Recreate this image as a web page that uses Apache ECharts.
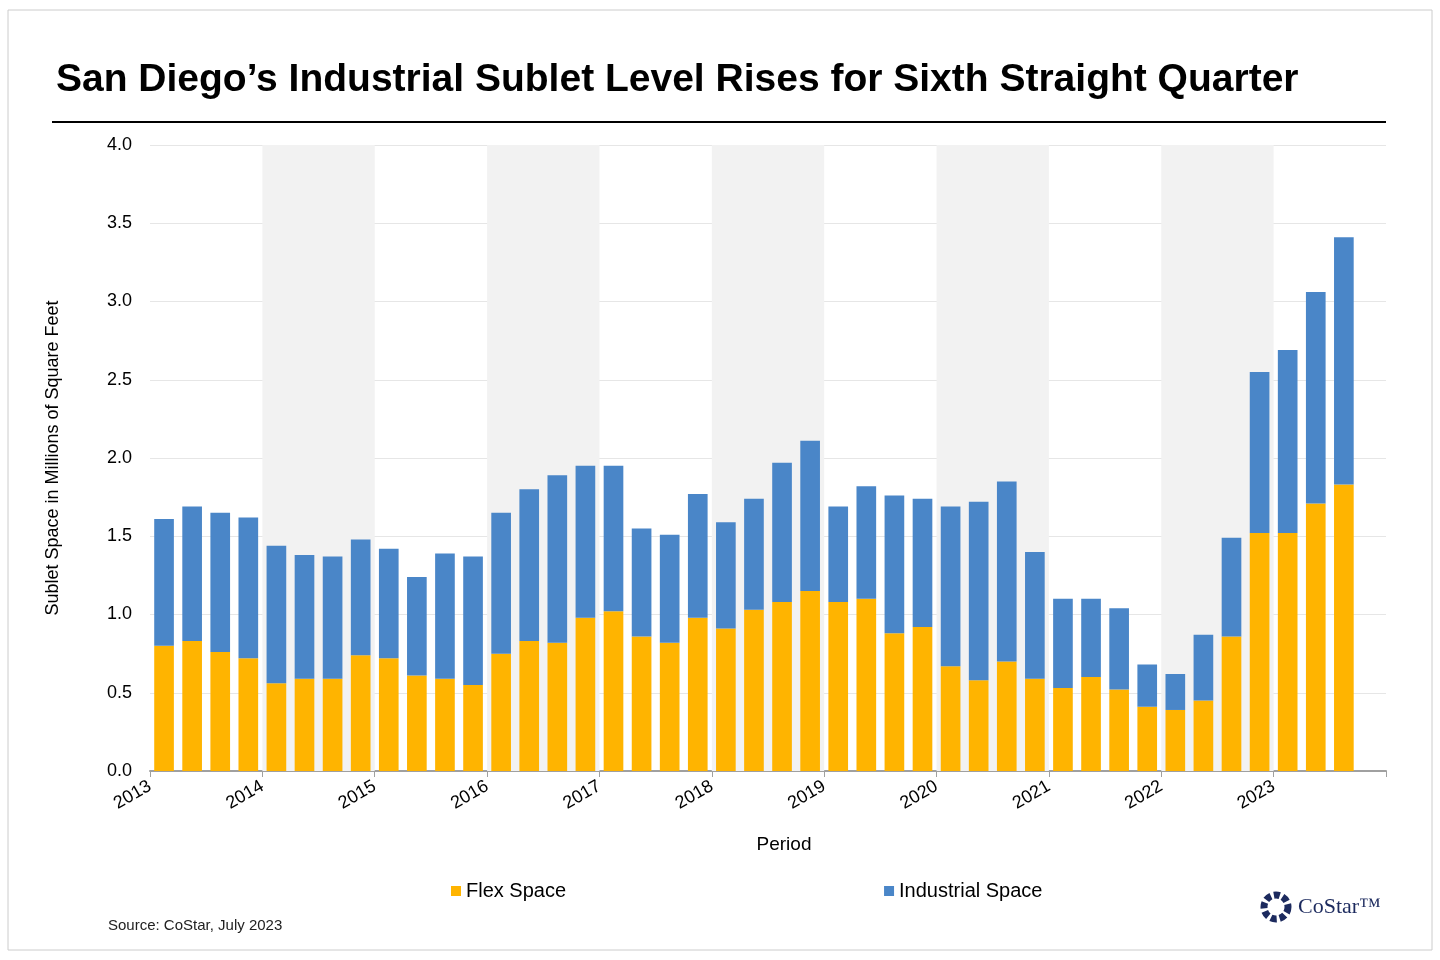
<!DOCTYPE html>
<html>
<head>
<meta charset="utf-8">
<script src="https://cdn.jsdelivr.net/npm/echarts@6/dist/echarts.min.js"></script>
</head>
<body style="margin:0">
<div id="c" style="width:1440px;height:960px"></div>
<script>
var quarters = [];
for (var y = 2013; y <= 2023; y++) for (var q = 1; q <= 4; q++) quarters.push(y + ' Q' + q);
var totals = [1.61,1.69,1.65,1.62, 1.44,1.38,1.37,1.48, 1.42,1.24,1.39,1.37,
  1.65,1.80,1.89,1.95, 1.95,1.55,1.51,1.77, 1.59,1.74,1.97,2.11,
  1.69,1.82,1.76,1.74, 1.69,1.72,1.85,1.40, 1.10,1.10,1.04,0.68,
  0.62,0.87,1.49,2.55, 2.69,3.06,3.41];
var flex = [0.80,0.83,0.76,0.72, 0.56,0.59,0.59,0.74, 0.72,0.61,0.59,0.55,
  0.75,0.83,0.82,0.98, 1.02,0.86,0.82,0.98, 0.91,1.03,1.08,1.15,
  1.08,1.10,0.88,0.92, 0.67,0.58,0.70,0.59, 0.53,0.60,0.52,0.41,
  0.39,0.45,0.86,1.52, 1.52,1.71,1.83];
var industrial = totals.map(function (t, i) { return +(t - flex[i]).toFixed(2); });
var shadedYears = [1, 3, 5, 7, 9]; // offsets from 2013

var chart = echarts.init(document.getElementById('c'));
chart.setOption({
  backgroundColor: '#fff',
  textStyle: { fontFamily: 'Arial, Liberation Sans' },
  title: { text: 'San Diego\u2019s Industrial Sublet Level Rises for Sixth Straight Quarter',
    left: 51, top: 56, textStyle: { fontSize: 39, fontWeight: 'bold', color: '#000' } },
  graphic: [
    { type: 'line', shape: { x1: 52, y1: 122, x2: 1386, y2: 122 }, style: { stroke: '#000', lineWidth: 2 } },
    { type: 'rect', shape: { x: 8, y: 10, width: 1424, height: 940 }, style: { fill: 'none', stroke: '#ccc' } },
    { type: 'text', left: 108, top: 918, style: { text: 'Source: CoStar, July 2023', fontSize: 15, fill: '#222' } },
    { type: 'text', left: 1298, top: 896, style: { text: 'CoStar\u2122', fontSize: 22, fill: '#1c2a5e', fontFamily: 'Liberation Serif' } },
    { type: 'circle', shape: { cx: 1276, cy: 907, r: 12 }, style: { fill: 'none', stroke: '#1c2a5e', lineWidth: 7, lineDash: [6, 3] } }
  ],
  legend: { top: 876, left: 446, itemGap: 318, itemWidth: 10, itemHeight: 10, icon: 'rect',
    textStyle: { fontSize: 20, color: '#000' }, data: ['Flex Space', 'Industrial Space'] },
  grid: { left: 150, right: 54, top: 145, bottom: 189 },
  xAxis: [
    { type: 'category', data: quarters, axisLabel: { show: false }, axisTick: { show: false },
      axisLine: { show: false } },
    { type: 'value', min: 0, max: 11, interval: 1, position: 'bottom',
      name: 'Period', nameLocation: 'middle', nameGap: 64, nameTextStyle: { fontSize: 19, color: '#000', padding: [0, 0, 0, 32] },
      axisLine: { show: true, onZero: false, lineStyle: { color: '#a0a0a0', width: 2 } },
      axisTick: { show: true, length: 6, lineStyle: { color: '#a0a0a0' } },
      splitLine: { show: false },
      axisLabel: { rotate: 30, fontSize: 18, color: '#000', margin: 14,
        formatter: function (v) { return v < 11 ? String(2013 + v) : ''; } } }
  ],
  yAxis: { type: 'value', min: 0, max: 4, interval: 0.5,
    name: 'Sublet Space in Millions of Square Feet', nameLocation: 'middle', nameGap: 88,
    nameTextStyle: { fontSize: 18, color: '#000' },
    axisLine: { show: false }, axisTick: { show: false },
    axisLabel: { fontSize: 18, color: '#000', margin: 18, formatter: function (v) { return v.toFixed(1); } },
    splitLine: { lineStyle: { color: '#e6e6e6' } } },
  series: [
    { type: 'line', xAxisIndex: 1, data: [], silent: true,
      markArea: { silent: true, itemStyle: { color: '#f2f2f2' },
        data: shadedYears.map(function (o) { return [{ xAxis: o }, { xAxis: o + 1 }]; }) } },
    { name: 'Flex Space', type: 'bar', stack: 's', data: flex, barCategoryGap: '30%',
      itemStyle: { color: '#ffb400' } },
    { name: 'Industrial Space', type: 'bar', stack: 's', data: industrial,
      itemStyle: { color: '#4a86c8' } }
  ]
});
</script>
</body>
</html>
